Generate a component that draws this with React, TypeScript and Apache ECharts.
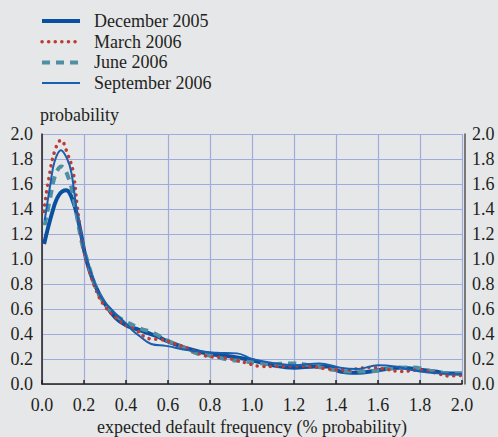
import React, { useEffect, useRef } from "react";
import * as echarts from "echarts";

const seriesNames = ["December 2005", "March 2006", "June 2006", "September 2006"];

const dec2005: number[][] = [
  [0.01, 1.12], [0.05, 1.38], [0.08, 1.51], [0.115, 1.55], [0.15, 1.45], [0.18, 1.25], [0.21, 1.0],
  [0.25, 0.8], [0.3, 0.64], [0.35, 0.53], [0.4, 0.47], [0.45, 0.44], [0.5, 0.41], [0.55, 0.38],
  [0.6, 0.34], [0.7, 0.28], [0.8, 0.24], [0.9, 0.22], [1.0, 0.19], [1.1, 0.15], [1.2, 0.13],
  [1.3, 0.14], [1.36, 0.14], [1.42, 0.1], [1.5, 0.09], [1.6, 0.11], [1.7, 0.13], [1.8, 0.115],
  [1.87, 0.1], [1.94, 0.085], [2.0, 0.085],
];
const mar2006: number[][] = [
  [0.008, 1.38], [0.03, 1.62], [0.06, 1.86], [0.09, 1.95], [0.124, 1.83], [0.148, 1.7], [0.168, 1.42],
  [0.19, 1.15], [0.215, 0.97], [0.26, 0.74], [0.3, 0.62], [0.356, 0.525], [0.41, 0.46], [0.45, 0.43],
  [0.486, 0.38], [0.52, 0.36], [0.56, 0.357], [0.63, 0.325], [0.7, 0.28], [0.78, 0.224], [0.85, 0.213],
  [0.9, 0.2], [0.97, 0.17], [1.05, 0.14], [1.12, 0.14], [1.2, 0.144], [1.285, 0.139], [1.365, 0.12],
  [1.445, 0.112], [1.525, 0.128], [1.56, 0.133], [1.64, 0.117], [1.71, 0.1], [1.79, 0.112],
  [1.87, 0.09], [1.94, 0.064], [2.0, 0.07],
];
const jun2006: number[][] = [
  [0.013, 1.27], [0.04, 1.5], [0.065, 1.68], [0.092, 1.74], [0.13, 1.63], [0.16, 1.4], [0.19, 1.13],
  [0.215, 0.99], [0.25, 0.8], [0.276, 0.7], [0.33, 0.58], [0.387, 0.51], [0.467, 0.445], [0.53, 0.41],
  [0.6, 0.345], [0.665, 0.3], [0.737, 0.245], [0.81, 0.224], [0.88, 0.197], [0.95, 0.184], [1.02, 0.17],
  [1.1, 0.16], [1.18, 0.165], [1.25, 0.157], [1.325, 0.133], [1.395, 0.112], [1.47, 0.1], [1.54, 0.1],
  [1.67, 0.125], [1.77, 0.133], [1.84, 0.106], [1.93, 0.085], [2.0, 0.08],
];
const sep2006: number[][] = [
  [0.013, 1.31], [0.04, 1.6], [0.06, 1.78], [0.09, 1.87], [0.12, 1.8], [0.14, 1.69], [0.165, 1.39],
  [0.19, 1.15], [0.215, 0.99], [0.24, 0.86], [0.276, 0.71], [0.34, 0.58], [0.4, 0.485], [0.43, 0.43],
  [0.467, 0.38], [0.52, 0.32], [0.59, 0.305], [0.7, 0.27], [0.83, 0.25], [0.93, 0.245], [1.0, 0.2],
  [1.11, 0.165], [1.2, 0.15], [1.32, 0.165], [1.42, 0.13], [1.5, 0.12], [1.6, 0.15], [1.68, 0.14],
  [1.8, 0.1], [1.9, 0.085], [2.0, 0.08],
];

const FONT = "'Liberation Serif', 'Times New Roman', serif";
const FS = 18;

const COLORS = ["#0a50a0", "#bd3b32", "#4f8fa3", "#1a5fae"];
const LINE_STYLES: any[] = [
  { color: COLORS[0], width: 4 },
  { color: COLORS[1], width: 3.5, type: [0.1, 6.5], cap: "round" },
  { color: COLORS[2], width: 4, type: [8, 6] },
  { color: COLORS[3], width: 2 },
];
const DATA = [dec2005, mar2006, jun2006, sep2006];
const Z = [2, 4, 3, 5];

export default function App() {
  const ref = useRef<HTMLDivElement>(null);
  useEffect(() => {
    if (!ref.current) return;
    const chart = echarts.init(ref.current, undefined, { renderer: "svg" });
    const labelStyle = { fontFamily: FONT, fontSize: FS, color: "#231f20" };
    const fmt = (v: number) => v.toFixed(1);
    chart.setOption({
      animation: false,
      backgroundColor: "#e6e7e9",
      textStyle: { fontFamily: FONT },
      grid: { left: 42, right: 36, top: 134, bottom: 53, outerBoundsMode: "none", containLabel: false },
      legend: {
        data: seriesNames.map((n, i) => ({ name: n, lineStyle: { ...LINE_STYLES[i] } })),
        orient: "vertical",
        left: 40,
        top: 12,
        padding: 0,
        itemWidth: 38,
        itemHeight: 14,
        itemGap: 2.7,
        itemStyle: { color: "transparent", borderColor: "transparent", borderWidth: 0 },
        textStyle: { ...labelStyle, lineHeight: 18, padding: [0, 0, 0, 9] },
      },
      graphic: [
        {
          type: "text",
          left: 40,
          top: 106,
          style: { text: "probability", font: `${FS}px ${FONT}`, fill: "#231f20" },
        },
      ],
      xAxis: {
        type: "value",
        min: 0,
        max: 2,
        interval: 0.2,
        name: "expected default frequency (% probability)",
        nameLocation: "middle",
        nameGap: 32,
        nameMoveOverlap: false,
        nameTextStyle: labelStyle,
        offset: 2,
        axisLine: { show: true, lineStyle: { color: "#231f20", width: 1.5 } },
        axisTick: { show: true, inside: true, length: 4, lineStyle: { color: "#231f20", width: 1.5 } },
        axisLabel: { ...labelStyle, margin: 10, formatter: fmt },
        splitLine: { show: true, lineStyle: { color: "#9fabdb", width: 1.2 } },
      },
      yAxis: [
        {
          type: "value",
          min: 0,
          max: 2,
          interval: 0.2,
          position: "left",
          axisLine: { show: true, lineStyle: { color: "#231f20", width: 1.5 } },
          axisTick: { show: false },
          axisLabel: { ...labelStyle, margin: 9, formatter: fmt },
          splitLine: { show: true, lineStyle: { color: "#9fabdb", width: 1.2 } },
        },
        {
          type: "value",
          min: 0,
          max: 2,
          interval: 0.2,
          position: "right",
          offset: 3,
          axisLine: { show: true, lineStyle: { color: "#555", width: 1.5 } },
          axisTick: { show: false },
          axisLabel: { ...labelStyle, margin: 7, formatter: fmt },
          splitLine: { show: false },
        },
      ],
      series: seriesNames.map((n, i) => ({
        name: n,
        type: "line",
        smooth: 0.4,
        symbol: "none",
        data: DATA[i],
        lineStyle: LINE_STYLES[i],
        itemStyle: { color: COLORS[i] },
        z: Z[i],
      })),
    });
    return () => chart.dispose();
  }, []);
  return <div ref={ref} style={{ width: 498, height: 437, position: "absolute", left: 0, top: 0 }} />;
}
